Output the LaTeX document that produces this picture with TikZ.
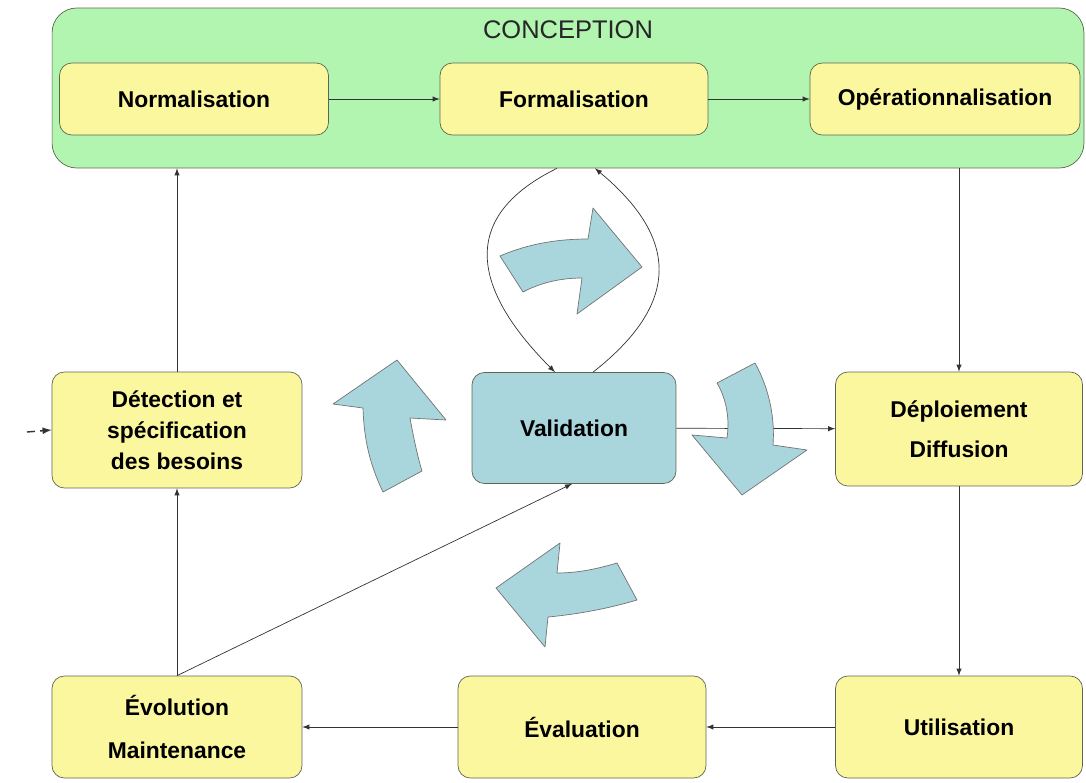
\documentclass[tikz,border=0pt]{standalone}
\usepackage{fontspec}
\setmainfont{Liberation Sans}
\usepackage{xcolor}
\usetikzlibrary{shapes,arrows,positioning,calc}

\definecolor{boxyellow}{HTML}{FBF79E}
\definecolor{boxgreen}{HTML}{B2F5B0}
\definecolor{boxblue}{HTML}{A9D5DC}
\definecolor{boxline}{HTML}{5E6450}

\begin{document}
\begin{tikzpicture}[x=0.02cm,y=-0.02cm,
  stepbox/.style={draw=boxline,fill=boxyellow,rounded corners=7pt,align=center,
    font=\fontsize{13}{17.6}\selectfont\bfseries},
  flow/.style={-latex,black!80,thin},
  bigarrow/.style={draw=black!55,fill=boxblue,thin,line join=round}]
\useasboundingbox (0,0) rectangle (1086,782);
% Conception frame
\node[draw=boxline,fill=boxgreen,rounded corners=14pt,minimum width=20.64cm,
  minimum height=3.2cm] (concep) at (568,88) {};
\node[font=\fontsize{14.5}{17}\selectfont,black!85] (conceptitle) at (568,30) {CONCEPTION};
% Conception steps
\node[stepbox,minimum width=5.38cm,minimum height=1.44cm] (norm) at (194,99) {Normalisation};
\node[stepbox,minimum width=5.36cm,minimum height=1.44cm] (form) at (574,99) {Formalisation};
\node[stepbox,minimum width=5.4cm,minimum height=1.44cm] (oper) at (945,99) {Opérationnalisation};
% Middle row
\node[stepbox,minimum width=5cm,minimum height=2.32cm] (detect) at (177,430)
  {Détection et\\spécification\\des besoins};
\node[stepbox,fill=boxblue,minimum width=4.08cm,minimum height=2.22cm] (valid) at (574,428) {Validation};
\node[stepbox,minimum width=4.94cm,minimum height=2.28cm] (deploy) at (959,429)
  {Déploiement\\[5.4pt]Diffusion};
% Bottom row
\node[stepbox,minimum width=5cm,minimum height=2.04cm] (evol) at (177,727)
  {Évolution\\[7.4pt]Maintenance};
\node[stepbox,minimum width=4.96cm,minimum height=2.04cm] (evalu) at (582,727) {Évaluation};
\node[stepbox,minimum width=4.94cm,minimum height=2.04cm] (util) at (959,727) {Utilisation};
% Connectors
\draw[flow] (norm) -- (form);
\draw[flow] (form) -- (oper);
\draw[flow] (deploy.north |- concep.south) -- (deploy.north);
\draw[flow] (deploy) -- (util);
\draw[flow] (util) -- (evalu);
\draw[flow] (evalu) -- (evol);
\draw[flow] (evol) -- (detect);
\draw[flow] (detect.north) -- (detect.north |- concep.south);
\draw[flow] (valid) -- (deploy);
\draw[flow] (evol.north) -- ([xshift=-0.04cm]valid.south);
\coordinate (entry) at (27,432);
\draw[flow,thick,dash pattern=on 4.5pt off 3pt] (entry) -- (detect.west);
% Loop between conception and validation
\draw[flow] ([xshift=-0.22cm]concep.south) .. controls (462,215) and (468,285) .. ([xshift=-0.38cm]valid.north);
\draw[flow] ([xshift=0.38cm]valid.north) .. controls (685,300) and (675,235) .. ([xshift=0.54cm]concep.south);
% Cycle arrows
\draw[bigarrow] (500,256) .. controls (530,243) and (560,239) .. (588,239) -- (593,208) -- (642,267)
  -- (577,314) -- (582,278) .. controls (560,278) and (540,283) .. (523,292) -- cycle;
\draw[bigarrow] (397,360) -- (446,420) -- (410,418) .. controls (414,440) and (418,458) .. (422,471)
  -- (383,492) .. controls (370,465) and (364,440) .. (363,408) -- (333,404) -- cycle;
\draw[bigarrow] (717,383) -- (755,363) .. controls (770,390) and (775,420) .. (773,445) -- (807,450)
  -- (742,495) -- (692,435) -- (727,438) .. controls (730,418) and (726,398) .. (717,383) -- cycle;
\draw[bigarrow] (496,588) -- (560,543) -- (557,573) .. controls (580,573) and (600,568) .. (617,563)
  -- (637,600) .. controls (610,608) and (580,614) .. (548,617) -- (545,647) -- cycle;
\end{tikzpicture}
\end{document}
